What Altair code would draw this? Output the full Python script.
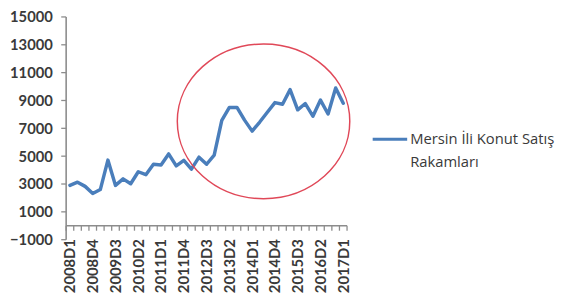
import json
import altair as alt
import pandas as pd

# ---- data ----
quarters = ["2008D1", "2008D2", "2008D3", "2008D4", "2009D1", "2009D2", "2009D3", "2009D4",
            "2010D1", "2010D2", "2010D3", "2010D4", "2011D1", "2011D2", "2011D3", "2011D4",
            "2012D1", "2012D2", "2012D3", "2012D4", "2013D1", "2013D2", "2013D3", "2013D4",
            "2014D1", "2014D2", "2014D3", "2014D4", "2015D1", "2015D2", "2015D3", "2015D4",
            "2016D1", "2016D2", "2016D3", "2016D4", "2017D1"]
values = [2900, 3130, 2830, 2320, 2600, 4720, 2900, 3370, 3020, 3880,
          3670, 4420, 4370, 5160, 4300, 4700, 4070, 4930, 4420, 5070,
          7570, 8500, 8500, 7590, 6800, 7450, 8150, 8850, 8730, 9780,
          8330, 8780, 7870, 9030, 8030, 9900, 8800]
series_lines = ["Mersin İli Konut Satış", "Rakamları"]
y_ticks = [-1000, 1000, 3000, 5000, 7000, 9000, 11000, 13000, 15000]
y_min, y_max = -1000, 15000
# highlighted region (ellipse centre, in data units)
ellipse_center_idx = [25.5]
ellipse_center_val = [7500]

W, H = 285, 226
n = len(quarters)
band = W / n

df = pd.DataFrame({"idx": list(range(n)), "quarter": quarters, "value": values})

tick_pos = [i - 0.5 for i in range(n + 1)]
label_arr = [quarters[i] if (i % 3 == 0 and i < n) else "" for i in range(n + 1)]
label_expr = json.dumps(label_arr, ensure_ascii=False) + "[round(datum.value + 0.5)]"

FONT = "Lato"
LBL = "#3a3a3a"
AX = "#8c8c8c"
TICK = 5

xscale = alt.Scale(domain=[-0.5, n - 0.5], nice=False, zero=False)
yscale = alt.Scale(domain=[y_min, y_max], nice=False, zero=False)

x_axis = alt.Axis(values=tick_pos, labelExpr=label_expr, labelAngle=-90, labelAlign="right",
                  labelBaseline="middle", labelOffset=band / 2, labelOverlap=False,
                  labelBound=False, labelFlush=False, offset=-H * 1000 / 16000,
                  domain=False, ticks=False, labelPadding=8 + TICK, grid=False, title=None,
                  labelColor=LBL, labelFont=FONT, labelFontSize=15, labelFontWeight="bold")
y_axis = alt.Axis(values=y_ticks, format="d", domain=False, ticks=False,
                  labelPadding=9 + TICK, grid=False,
                  labelOverlap=False, labelBound=False, labelFlush=False, title=None,
                  labelColor=LBL, labelFont=FONT, labelFontSize=15, labelFontWeight="bold")

X = alt.X("idx:Q", scale=xscale, axis=x_axis)
Y = alt.Y("value:Q", scale=yscale, axis=y_axis)

line = alt.Chart(df).mark_line(color="#4a7ebb", strokeWidth=3.5, strokeJoin="round",
                               strokeCap="round").encode(x=X, y=Y)

# axis lines and tick marks (drawn through the same scales)
ydom_df = pd.DataFrame({"idx": [-0.5], "value": [y_min], "value2": [y_max]})
y_domain = alt.Chart(ydom_df).mark_rule(color=AX, strokeWidth=1.6).encode(
    x=X, y=Y, y2="value2:Q")
xdom_df = pd.DataFrame({"idx": [-0.5], "idx2": [n - 0.5], "value": [0]})
x_domain = alt.Chart(xdom_df).mark_rule(color=AX, strokeWidth=1.6).encode(
    x=X, x2="idx2:Q", y=Y)
yt_df = pd.DataFrame({"idx": [-0.5] * len(y_ticks), "value": y_ticks})
y_tickmarks = alt.Chart(yt_df).mark_rule(color=AX, strokeWidth=1.3, xOffset=-TICK).encode(
    x=X, x2="idx:Q", y=Y)
xt_df = pd.DataFrame({"idx": tick_pos, "value": [0] * len(tick_pos)})
x_tickmarks = alt.Chart(xt_df).mark_rule(color=AX, strokeWidth=1.3, y2Offset=TICK).encode(
    x=X, y=Y, y2="value:Q")

ell_df = pd.DataFrame({"idx": ellipse_center_idx, "value": ellipse_center_val})
ellipse = alt.Chart(ell_df).mark_point(
    shape="M-1,0A1,0.897,0,1,1,1,0A1,0.897,0,1,1,-1,0Z",
    size=175 * 175, filled=False, stroke="#e04858", strokeWidth=1.5, opacity=1,
).encode(x=X, y=Y)

leg_df = pd.DataFrame({"label": ["\n".join(series_lines)]})
leg_line = alt.Chart(leg_df).mark_rule(color="#4a7ebb", strokeWidth=3).encode(
    x=alt.value(311), x2=alt.value(346), y=alt.value(124))
leg_text = alt.Chart(leg_df).mark_text(
    align="left", baseline="middle", lineBreak="\n", lineHeight=23,
    font="Open Sans", fontSize=15, color=LBL).encode(
    x=alt.value(349), y=alt.value(124), text="label:N")

chart = alt.layer(y_domain, x_domain, y_tickmarks, x_tickmarks, line, ellipse,
                  leg_line, leg_text).properties(
    width=W, height=H,
    autosize=alt.AutoSizeParams(type="none"),
    padding={"left": 59, "top": 7, "right": 556 - 59 - W, "bottom": 52},
).configure_view(stroke=None)

chart.save("out.html", embed_options={"renderer": "svg", "actions": False})
